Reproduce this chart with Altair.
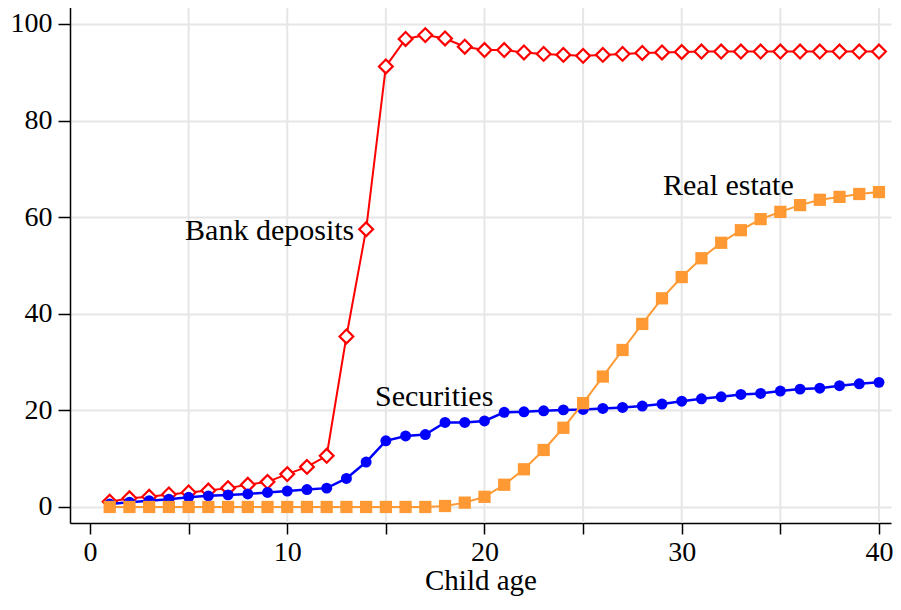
import altair as alt
import pandas as pd

ages = list(range(1, 41))
bank_deposits = [1.1, 1.8, 2.1, 2.6, 3.0, 3.4, 3.9, 4.6, 5.2, 6.8,
                 8.3, 10.6, 35.3, 57.5, 91.2, 96.9, 97.7, 97.0, 95.3, 94.6,
                 94.6, 94.1, 93.8, 93.6, 93.4, 93.6, 93.8, 94.0, 94.1, 94.2,
                 94.3, 94.3, 94.3, 94.3, 94.3, 94.3, 94.3, 94.3, 94.3, 94.3]
securities = [0.6, 1.0, 1.3, 1.6, 2.0, 2.3, 2.5, 2.7, 3.0, 3.3,
              3.6, 3.9, 5.9, 9.3, 13.7, 14.7, 15.0, 17.5, 17.5, 17.8,
              19.6, 19.7, 19.9, 20.1, 20.2, 20.4, 20.6, 20.9, 21.3, 21.9,
              22.4, 22.8, 23.3, 23.5, 24.0, 24.4, 24.6, 25.1, 25.5, 25.8]
real_estate = [0.0, 0.0, 0.0, 0.0, 0.0, 0.0, 0.0, 0.0, 0.0, 0.0,
               0.0, 0.0, 0.0, 0.0, 0.0, 0.0, 0.0, 0.2, 0.9, 2.1,
               4.6, 7.8, 11.8, 16.4, 21.5, 27.0, 32.5, 37.9, 43.2, 47.6,
               51.5, 54.7, 57.3, 59.6, 61.1, 62.5, 63.6, 64.2, 64.8, 65.2]

x_ticks = [0, 5, 10, 15, 20, 25, 30, 35, 40]
x_grid = [5, 10, 15, 20, 25, 30, 35, 40]
y_ticks = [0, 20, 40, 60, 80, 100]

label_text = ["Bank deposits", "Securities", "Real estate"]
label_x = [4.82, 14.45, 29.05]
label_y = [55.3, 20.9, 64.6]

FONT = "Liberation Serif"
GRID = "#e6e6e6"

xscale = alt.Scale(domain=[-1.014, 40.61], nice=False, zero=False)
yscale = alt.Scale(domain=[-3.32, 103.93], nice=False, zero=False)

df_bank = pd.DataFrame({"age": ages, "v": bank_deposits})
df_sec = pd.DataFrame({"age": ages, "v": securities})
df_real = pd.DataFrame({"age": ages, "v": real_estate})
df_grid = pd.DataFrame({"g": x_grid, "v": [50] * len(x_grid)})
df_lab = pd.DataFrame({"t": label_text, "age": label_x, "v": label_y})

x_axis = alt.Axis(
    values=x_ticks, grid=False,
    labelExpr="datum.value % 10 == 0 ? datum.label : ''",
    domainColor="black", domainWidth=1.5,
    tickColor="black", tickWidth=1.5, tickSize=11,
    labelFont=FONT, labelFontSize=28, labelColor="black", labelPadding=4,
    title="Child age", titleFont=FONT, titleFontSize=29, titleFontWeight="normal",
    titleColor="black", titlePadding=0,
)
y_axis = alt.Axis(
    values=y_ticks, grid=True, gridColor=GRID, gridWidth=2,
    domainColor="black", domainWidth=1.5,
    tickColor="black", tickWidth=1.5, tickSize=12,
    labelFont=FONT, labelFontSize=28, labelColor="black", labelPadding=6,
    title=None,
)

X = alt.X("age:Q", scale=xscale, axis=x_axis)
Y = alt.Y("v:Q", scale=yscale, axis=y_axis)

grid = alt.Chart(df_grid).mark_rule(color=GRID, strokeWidth=2).encode(
    x=alt.X("g:Q", scale=xscale, axis=x_axis)
)

bank_line = alt.Chart(df_bank).mark_line(color="#ff0000", strokeWidth=2).encode(x=X, y=Y)
bank_pts = alt.Chart(df_bank).mark_point(
    shape="diamond", filled=True, fill="white", stroke="#ff0000",
    strokeWidth=2.2, size=190, opacity=1
).encode(x=X, y=Y)

sec_line = alt.Chart(df_sec).mark_line(color="#0000ff", strokeWidth=2.5).encode(x=X, y=Y)
sec_pts = alt.Chart(df_sec).mark_point(
    shape="circle", filled=True, color="#0000ff", size=120, opacity=1
).encode(x=X, y=Y)

real_line = alt.Chart(df_real).mark_line(color="#ff9933", strokeWidth=2).encode(x=X, y=Y)
real_pts = alt.Chart(df_real).mark_point(
    shape="square", filled=True, color="#ff9933", size=150, opacity=1
).encode(x=X, y=Y)

labels = alt.Chart(df_lab).mark_text(
    font=FONT, fontSize=30, color="black", align="left", baseline="alphabetic"
).encode(x=X, y=Y, text="t:N")

chart = alt.layer(
    grid, bank_line, bank_pts, sec_line, sec_pts, real_line, real_pts, labels
).properties(
    width=821, height=518,
    autosize=alt.AutoSizeParams(type="none"),
    padding={"left": 62, "top": -3, "right": 2, "bottom": 73},
    background="white",
).configure_view(stroke=None)

chart.save("out.html", embed_options={"renderer": "svg", "actions": False})
